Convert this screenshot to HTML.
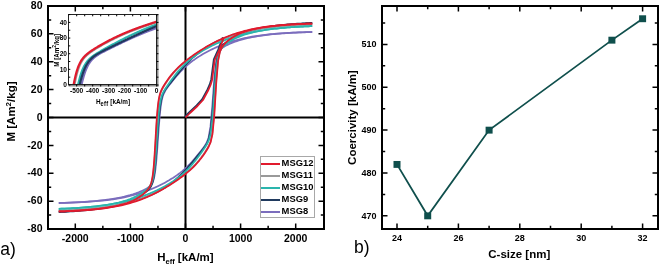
<!DOCTYPE html>
<html><head><meta charset="utf-8"><style>
html,body{margin:0;padding:0;background:#fff;}
body{width:660px;height:267px;overflow:hidden;font-family:"Liberation Sans",sans-serif;}
svg{display:block;will-change:transform;}
</style></head><body>
<svg width="660" height="267" viewBox="0 0 660 267">
<g stroke="#000" stroke-width="2" fill="none">
<line x1="48" y1="117.5" x2="324" y2="117.5"/>
<line x1="185.5" y1="6" x2="185.5" y2="229"/>
</g>
<defs><clipPath id="cl"><rect x="48" y="6" width="276" height="223"/></clipPath></defs>
<g clip-path="url(#cl)" fill="none" stroke-width="1.75" stroke-linejoin="round" stroke-linecap="butt">
<path d="M58.77,202.96 L61.62,202.88 L64.47,202.79 L67.32,202.70 L70.17,202.59 L73.02,202.48 L75.87,202.35 L78.72,202.21 L81.57,202.05 L84.42,201.88 L87.27,201.69 L90.12,201.48 L92.97,201.25 L95.82,201.00 L98.67,200.72 L101.52,200.41 L104.37,200.08 L107.22,199.71 L110.07,199.31 L112.92,198.87 L115.77,198.38 L118.62,197.85 L121.47,197.27 L124.32,196.63 L127.17,195.92 L130.02,195.15 L132.87,194.29 L135.72,193.35 L138.57,192.29 L141.42,191.11 L141.56,191.05 L141.70,190.99 L141.84,190.93 L141.97,190.87 L142.11,190.81 L142.25,190.74 L142.39,190.68 L142.53,190.62 L142.67,190.55 L142.81,190.49 L142.94,190.42 L143.08,190.36 L143.22,190.29 L143.36,190.23 L143.50,190.16 L143.64,190.09 L143.78,190.02 L143.92,189.96 L144.05,189.89 L144.19,189.82 L144.33,189.75 L144.47,189.68 L144.61,189.61 L144.75,189.54 L144.89,189.47 L145.02,189.39 L145.16,189.32 L145.30,189.25 L145.44,189.17 L145.58,189.10 L145.72,189.02 L145.86,188.95 L145.99,188.87 L146.13,188.79 L146.27,188.72 L146.41,188.64 L146.55,188.56 L146.69,188.48 L146.83,188.40 L146.96,188.31 L147.10,188.23 L147.24,188.14 L147.38,188.06 L147.52,187.97 L147.66,187.88 L147.80,187.79 L147.93,187.70 L148.07,187.61 L148.21,187.52 L148.35,187.42 L148.49,187.32 L148.63,187.23 L148.77,187.12 L148.91,187.02 L149.04,186.91 L149.18,186.81 L149.32,186.70 L149.46,186.58 L149.60,186.46 L149.74,186.34 L149.88,186.22 L150.01,186.09 L150.15,185.96 L150.29,185.82 L150.43,185.68 L150.57,185.53 L150.71,185.38 L150.85,185.22 L150.98,185.05 L151.12,184.88 L151.26,184.69 L151.40,184.50 L151.54,184.30 L151.68,184.09 L151.82,183.87 L151.95,183.63 L152.09,183.39 L152.23,183.13 L152.37,182.85 L152.51,182.56 L152.65,182.25 L152.79,181.92 L152.93,181.56 L153.06,181.19 L153.20,180.79 L153.34,180.37 L153.48,179.92 L153.62,179.44 L153.76,178.92 L153.90,178.37 L154.03,177.79 L154.17,177.17 L154.31,176.50 L154.45,175.79 L154.59,175.03 L154.73,174.23 L154.87,173.37 L155.00,172.46 L155.14,171.49 L155.28,170.46 L155.42,169.38 L155.56,168.23 L155.70,167.01 L155.84,165.73 L155.97,164.39 L156.11,162.98 L156.25,161.51 L156.39,159.97 L156.53,158.37 L156.67,156.70 L156.81,154.98 L156.95,153.21 L157.08,151.39 L157.22,149.52 L157.36,147.62 L157.50,145.68 L157.64,143.72 L157.78,141.74 L157.92,139.75 L158.05,137.75 L158.19,135.76 L158.33,133.78 L158.47,131.82 L158.61,129.88 L158.75,127.98 L158.89,126.12 L159.02,124.30 L159.16,122.53 L159.30,120.81 L159.44,119.15 L159.58,117.55 L159.72,116.01 L159.86,114.53 L159.99,113.12 L160.13,111.77 L160.27,110.49 L160.41,109.27 L160.55,108.11 L160.69,107.01 L160.83,105.97 L160.96,104.99 L161.10,104.06 L161.24,103.18 L161.38,102.35 L161.52,101.57 L161.66,100.84 L161.80,100.14 L161.94,99.49 L162.07,98.87 L162.21,98.29 L162.35,97.74 L162.49,97.22 L162.63,96.73 L162.77,96.26 L162.91,95.82 L163.04,95.40 L163.18,95.00 L163.32,94.62 L163.46,94.26 L165.34,90.51 L167.23,87.78 L169.11,85.31 L170.99,82.91 L172.88,80.55 L174.76,78.23 L176.64,75.98 L178.53,73.82 L180.41,71.76 L182.29,69.81 L184.17,67.96 L186.06,66.22 L187.94,64.58 L189.82,63.03 L191.71,61.56 L193.59,60.17 L195.47,58.85 L197.36,57.58 L199.24,56.37 L201.12,55.21 L203.01,54.10 L204.89,53.03 L206.77,52.00 L208.66,51.01 L210.54,50.05 L212.42,49.13 L214.31,48.25 L216.19,47.39 L218.07,46.57 L219.95,45.79 L221.84,45.03 L223.72,44.31 L225.60,43.61 L227.49,42.95 L229.37,42.32 L231.25,41.71 L233.14,41.13 L235.02,40.58 L236.90,40.06 L238.79,39.56 L240.67,39.08 L242.55,38.63 L244.44,38.21 L246.32,37.80 L248.20,37.42 L250.09,37.05 L251.97,36.71 L253.85,36.39 L255.74,36.08 L257.62,35.79 L259.50,35.52 L261.38,35.26 L263.27,35.02 L265.15,34.79 L267.03,34.57 L268.92,34.37 L270.80,34.18 L272.68,34.00 L274.57,33.83 L276.45,33.67 L278.33,33.52 L280.22,33.38 L282.10,33.25 L283.98,33.13 L285.87,33.01 L287.75,32.90 L289.63,32.80 L291.52,32.71 L293.40,32.62 L295.28,32.53 L297.16,32.45 L299.05,32.38 L300.93,32.31 L302.81,32.25 L304.70,32.18 L306.58,32.13 L308.46,32.07 L310.35,32.02 L312.23,31.98" stroke="#7b6dbd"/>
<path d="M58.77,203.02 L61.62,202.95 L64.47,202.87 L67.32,202.78 L70.17,202.69 L73.02,202.58 L75.87,202.46 L78.72,202.33 L81.57,202.19 L84.42,202.03 L87.27,201.86 L90.12,201.66 L92.97,201.45 L95.82,201.22 L98.67,200.97 L101.52,200.69 L104.37,200.38 L107.22,200.05 L110.07,199.68 L112.92,199.28 L115.77,198.84 L118.62,198.36 L121.47,197.84 L124.32,197.27 L127.17,196.66 L130.02,195.99 L132.87,195.27 L135.72,194.49 L138.57,193.65 L141.42,192.75 L141.56,192.71 L141.70,192.66 L141.84,192.61 L141.97,192.57 L142.11,192.52 L142.25,192.48 L142.39,192.43 L142.53,192.38 L142.67,192.34 L142.81,192.29 L142.94,192.24 L143.08,192.20 L143.22,192.15 L143.36,192.10 L143.50,192.05 L143.64,192.01 L143.78,191.96 L143.92,191.91 L144.05,191.86 L144.19,191.81 L144.33,191.76 L144.47,191.72 L144.61,191.67 L144.75,191.62 L144.89,191.57 L145.02,191.52 L145.16,191.47 L145.30,191.42 L145.44,191.37 L145.58,191.32 L145.72,191.27 L145.86,191.22 L145.99,191.17 L146.13,191.12 L146.27,191.07 L146.41,191.02 L146.55,190.96 L146.69,190.91 L146.83,190.86 L146.96,190.81 L147.10,190.76 L147.24,190.71 L147.38,190.65 L147.52,190.60 L147.66,190.55 L147.80,190.50 L147.93,190.44 L148.07,190.39 L148.21,190.34 L148.35,190.28 L148.49,190.23 L148.63,190.18 L148.77,190.12 L148.91,190.07 L149.04,190.01 L149.18,189.96 L149.32,189.90 L149.46,189.85 L149.60,189.80 L149.74,189.74 L149.88,189.68 L150.01,189.63 L150.15,189.57 L150.29,189.52 L150.43,189.46 L150.57,189.41 L150.71,189.35 L150.85,189.29 L150.98,189.24 L151.12,189.18 L151.26,189.12 L151.40,189.07 L151.54,189.01 L151.68,188.95 L151.82,188.89 L151.95,188.84 L152.09,188.78 L152.23,188.72 L152.37,188.66 L152.51,188.60 L152.65,188.54 L152.79,188.49 L152.93,188.43 L153.06,188.37 L153.20,188.31 L153.34,188.25 L153.48,188.19 L153.62,188.13 L153.76,188.07 L153.90,188.01 L154.03,187.95 L154.17,187.89 L154.31,187.83 L154.45,187.77 L154.59,187.71 L154.73,187.64 L154.87,187.58 L155.00,187.52 L155.14,187.46 L155.28,187.40 L155.42,187.33 L155.56,187.27 L155.70,187.21 L155.84,187.15 L155.97,187.08 L156.11,187.02 L156.25,186.96 L156.39,186.89 L156.53,186.83 L156.67,186.77 L156.81,186.70 L156.95,186.64 L157.08,186.57 L157.22,186.51 L157.36,186.45 L157.50,186.38 L157.64,186.32 L157.78,186.25 L157.92,186.18 L158.05,186.12 L158.19,186.05 L158.33,185.99 L158.47,185.92 L158.61,185.85 L158.75,185.79 L158.89,185.72 L159.02,185.65 L159.16,185.59 L159.30,185.52 L159.44,185.45 L159.58,185.38 L159.72,185.32 L159.86,185.25 L159.99,185.18 L160.13,185.11 L160.27,185.04 L160.41,184.97 L160.55,184.90 L160.69,184.84 L160.83,184.77 L160.96,184.70 L161.10,184.63 L161.24,184.56 L161.38,184.49 L161.52,184.42 L161.66,184.35 L161.80,184.27 L161.94,184.20 L162.07,184.13 L162.21,184.06 L162.35,183.99 L162.49,183.92 L162.63,183.85 L162.77,183.77 L162.91,183.70 L163.04,183.63 L163.18,183.56 L163.32,183.48 L163.46,183.41 L165.34,182.40 L167.23,181.34 L169.11,180.25 L170.99,179.10 L172.88,177.92 L174.76,176.68 L176.64,175.38 L178.53,174.01 L180.41,172.58 L182.29,171.06 L184.17,169.46 L186.06,167.76 L187.94,165.96 L189.82,164.05 L191.71,162.03 L193.59,159.91 L195.47,157.70 L197.36,155.40 L199.24,153.06 L201.12,150.67 L203.01,148.25 L204.89,145.66 L206.77,142.48 L208.66,137.23 L210.54,126.16 L212.42,104.69 L214.31,78.62 L216.19,61.29 L218.07,53.44 L219.95,50.03 L221.84,48.18 L223.72,46.88 L225.60,45.80 L227.49,44.85 L229.37,43.98 L231.25,43.18 L233.14,42.43 L235.02,41.74 L236.90,41.10 L238.79,40.50 L240.67,39.94 L242.55,39.42 L244.44,38.92 L246.32,38.46 L248.20,38.02 L250.09,37.62 L251.97,37.23 L253.85,36.87 L255.74,36.53 L257.62,36.21 L259.50,35.91 L261.38,35.63 L263.27,35.36 L265.15,35.11 L267.03,34.87 L268.92,34.65 L270.80,34.44 L272.68,34.25 L274.57,34.06 L276.45,33.89 L278.33,33.73 L280.22,33.57 L282.10,33.43 L283.98,33.30 L285.87,33.17 L287.75,33.05 L289.63,32.94 L291.52,32.84 L293.40,32.74 L295.28,32.65 L297.16,32.56 L299.05,32.48 L300.93,32.40 L302.81,32.33 L304.70,32.27 L306.58,32.20 L308.46,32.15 L310.35,32.09 L312.23,32.04" stroke="#7b6dbd"/>
<path d="M58.77,212.11 L61.62,211.98 L64.47,211.83 L67.32,211.67 L70.17,211.50 L73.02,211.31 L75.87,211.11 L78.72,210.89 L81.57,210.66 L84.42,210.40 L87.27,210.12 L90.12,209.82 L92.97,209.50 L95.82,209.14 L98.67,208.75 L101.52,208.33 L104.37,207.87 L107.22,207.36 L110.07,206.81 L112.92,206.20 L115.77,205.53 L118.62,204.79 L121.47,203.97 L124.32,203.06 L127.17,202.05 L130.02,200.93 L132.87,199.68 L135.72,198.30 L138.57,196.76 L141.42,195.04 L141.56,194.95 L141.70,194.86 L141.84,194.77 L141.97,194.68 L142.11,194.59 L142.25,194.50 L142.39,194.41 L142.53,194.32 L142.67,194.23 L142.81,194.14 L142.94,194.04 L143.08,193.95 L143.22,193.86 L143.36,193.76 L143.50,193.67 L143.64,193.57 L143.78,193.47 L143.92,193.38 L144.05,193.28 L144.19,193.18 L144.33,193.08 L144.47,192.98 L144.61,192.88 L144.75,192.78 L144.89,192.68 L145.02,192.58 L145.16,192.47 L145.30,192.37 L145.44,192.26 L145.58,192.16 L145.72,192.05 L145.86,191.94 L145.99,191.84 L146.13,191.73 L146.27,191.62 L146.41,191.50 L146.55,191.39 L146.69,191.28 L146.83,191.16 L146.96,191.05 L147.10,190.93 L147.24,190.81 L147.38,190.69 L147.52,190.56 L147.66,190.44 L147.80,190.31 L147.93,190.18 L148.07,190.05 L148.21,189.92 L148.35,189.78 L148.49,189.64 L148.63,189.50 L148.77,189.35 L148.91,189.20 L149.04,189.05 L149.18,188.89 L149.32,188.73 L149.46,188.56 L149.60,188.39 L149.74,188.21 L149.88,188.03 L150.01,187.84 L150.15,187.65 L150.29,187.44 L150.43,187.23 L150.57,187.01 L150.71,186.78 L150.85,186.54 L150.98,186.29 L151.12,186.02 L151.26,185.75 L151.40,185.46 L151.54,185.15 L151.68,184.83 L151.82,184.49 L151.95,184.13 L152.09,183.75 L152.23,183.35 L152.37,182.93 L152.51,182.48 L152.65,182.00 L152.79,181.49 L152.93,180.96 L153.06,180.39 L153.20,179.78 L153.34,179.14 L153.48,178.46 L153.62,177.74 L153.76,176.97 L153.90,176.15 L154.03,175.29 L154.17,174.37 L154.31,173.41 L154.45,172.38 L154.59,171.30 L154.73,170.16 L154.87,168.97 L155.00,167.71 L155.14,166.38 L155.28,165.00 L155.42,163.55 L155.56,162.05 L155.70,160.48 L155.84,158.86 L155.97,157.18 L156.11,155.45 L156.25,153.66 L156.39,151.84 L156.53,149.98 L156.67,148.08 L156.81,146.15 L156.95,144.20 L157.08,142.24 L157.22,140.27 L157.36,138.29 L157.50,136.33 L157.64,134.37 L157.78,132.44 L157.92,130.53 L158.05,128.65 L158.19,126.80 L158.33,125.00 L158.47,123.25 L158.61,121.55 L158.75,119.90 L158.89,118.31 L159.02,116.77 L159.16,115.30 L159.30,113.88 L159.44,112.53 L159.58,111.24 L159.72,110.01 L159.86,108.84 L159.99,107.72 L160.13,106.67 L160.27,105.66 L160.41,104.71 L160.55,103.82 L160.69,102.97 L160.83,102.16 L160.96,101.40 L161.10,100.68 L161.24,100.01 L161.38,99.36 L161.52,98.76 L161.66,98.18 L161.80,97.64 L161.94,97.13 L162.07,96.64 L162.21,96.18 L162.35,95.74 L162.49,95.32 L162.63,94.92 L162.77,94.54 L162.91,94.18 L163.04,93.83 L163.18,93.50 L163.32,93.18 L163.46,92.87 L165.34,89.53 L167.23,86.92 L169.11,84.52 L170.99,82.17 L172.88,79.84 L174.76,77.52 L176.64,75.21 L178.53,72.94 L180.41,70.72 L182.29,68.54 L184.17,66.43 L186.06,64.38 L187.94,62.42 L189.82,60.52 L191.71,58.71 L193.59,56.98 L195.47,55.33 L197.36,53.76 L199.24,52.27 L201.12,50.86 L203.01,49.51 L204.89,48.24 L206.77,47.03 L208.66,45.88 L210.54,44.79 L212.42,43.76 L214.31,42.77 L216.19,41.84 L218.07,40.95 L219.95,40.10 L221.84,39.28 L223.72,38.51 L225.60,37.77 L227.49,37.07 L229.37,36.39 L231.25,35.74 L233.14,35.12 L235.02,34.53 L236.90,33.96 L238.79,33.41 L240.67,32.89 L242.55,32.39 L244.44,31.91 L246.32,31.44 L248.20,31.00 L250.09,30.57 L251.97,30.16 L253.85,29.77 L255.74,29.39 L257.62,29.03 L259.50,28.69 L261.38,28.35 L263.27,28.03 L265.15,27.73 L267.03,27.43 L268.92,27.15 L270.80,26.88 L272.68,26.62 L274.57,26.38 L276.45,26.14 L278.33,25.91 L280.22,25.70 L282.10,25.49 L283.98,25.29 L285.87,25.10 L287.75,24.92 L289.63,24.74 L291.52,24.58 L293.40,24.42 L295.28,24.26 L297.16,24.12 L299.05,23.98 L300.93,23.85 L302.81,23.72 L304.70,23.60 L306.58,23.48 L308.46,23.37 L310.35,23.27 L312.23,23.17" stroke="#203a5e"/>
<path d="M58.77,211.83 L61.62,211.68 L64.47,211.51 L67.32,211.34 L70.17,211.15 L73.02,210.94 L75.87,210.72 L78.72,210.49 L81.57,210.24 L84.42,209.97 L87.27,209.69 L90.12,209.38 L92.97,209.05 L95.82,208.70 L98.67,208.33 L101.52,207.93 L104.37,207.50 L107.22,207.05 L110.07,206.57 L112.92,206.05 L115.77,205.51 L118.62,204.92 L121.47,204.30 L124.32,203.64 L127.17,202.94 L130.02,202.19 L132.87,201.40 L135.72,200.55 L138.57,199.65 L141.42,198.68 L141.56,198.64 L141.70,198.59 L141.84,198.54 L141.97,198.49 L142.11,198.44 L142.25,198.39 L142.39,198.34 L142.53,198.29 L142.67,198.24 L142.81,198.19 L142.94,198.14 L143.08,198.09 L143.22,198.04 L143.36,197.99 L143.50,197.94 L143.64,197.89 L143.78,197.84 L143.92,197.79 L144.05,197.73 L144.19,197.68 L144.33,197.63 L144.47,197.58 L144.61,197.53 L144.75,197.48 L144.89,197.42 L145.02,197.37 L145.16,197.32 L145.30,197.26 L145.44,197.21 L145.58,197.16 L145.72,197.10 L145.86,197.05 L145.99,197.00 L146.13,196.94 L146.27,196.89 L146.41,196.83 L146.55,196.78 L146.69,196.72 L146.83,196.67 L146.96,196.61 L147.10,196.56 L147.24,196.50 L147.38,196.45 L147.52,196.39 L147.66,196.34 L147.80,196.28 L147.93,196.22 L148.07,196.17 L148.21,196.11 L148.35,196.05 L148.49,196.00 L148.63,195.94 L148.77,195.88 L148.91,195.82 L149.04,195.76 L149.18,195.71 L149.32,195.65 L149.46,195.59 L149.60,195.53 L149.74,195.47 L149.88,195.41 L150.01,195.35 L150.15,195.29 L150.29,195.23 L150.43,195.17 L150.57,195.11 L150.71,195.05 L150.85,194.99 L150.98,194.93 L151.12,194.87 L151.26,194.81 L151.40,194.75 L151.54,194.69 L151.68,194.62 L151.82,194.56 L151.95,194.50 L152.09,194.44 L152.23,194.37 L152.37,194.31 L152.51,194.25 L152.65,194.18 L152.79,194.12 L152.93,194.06 L153.06,193.99 L153.20,193.93 L153.34,193.86 L153.48,193.80 L153.62,193.73 L153.76,193.67 L153.90,193.60 L154.03,193.54 L154.17,193.47 L154.31,193.40 L154.45,193.34 L154.59,193.27 L154.73,193.20 L154.87,193.14 L155.00,193.07 L155.14,193.00 L155.28,192.93 L155.42,192.87 L155.56,192.80 L155.70,192.73 L155.84,192.66 L155.97,192.59 L156.11,192.52 L156.25,192.45 L156.39,192.38 L156.53,192.31 L156.67,192.24 L156.81,192.17 L156.95,192.10 L157.08,192.03 L157.22,191.96 L157.36,191.88 L157.50,191.81 L157.64,191.74 L157.78,191.67 L157.92,191.59 L158.05,191.52 L158.19,191.45 L158.33,191.37 L158.47,191.30 L158.61,191.23 L158.75,191.15 L158.89,191.08 L159.02,191.00 L159.16,190.93 L159.30,190.85 L159.44,190.77 L159.58,190.70 L159.72,190.62 L159.86,190.55 L159.99,190.47 L160.13,190.39 L160.27,190.31 L160.41,190.24 L160.55,190.16 L160.69,190.08 L160.83,190.00 L160.96,189.92 L161.10,189.84 L161.24,189.76 L161.38,189.68 L161.52,189.60 L161.66,189.52 L161.80,189.44 L161.94,189.36 L162.07,189.28 L162.21,189.20 L162.35,189.11 L162.49,189.03 L162.63,188.95 L162.77,188.86 L162.91,188.78 L163.04,188.70 L163.18,188.61 L163.32,188.53 L163.46,188.44 L165.34,187.26 L167.23,186.01 L169.11,184.70 L170.99,183.31 L172.88,181.85 L174.76,180.32 L176.64,178.70 L178.53,177.00 L180.41,175.22 L182.29,173.37 L184.17,171.43 L186.06,169.41 L187.94,167.33 L189.82,165.18 L191.71,162.97 L193.59,160.72 L195.47,158.43 L197.36,156.11 L199.24,153.78 L201.12,151.44 L203.01,149.07 L204.89,146.58 L206.77,143.64 L208.66,139.24 L210.54,130.62 L212.42,113.08 L214.31,87.29 L216.19,65.56 L218.07,54.05 L219.95,48.83 L221.84,46.09 L223.72,44.23 L225.60,42.70 L227.49,41.34 L229.37,40.09 L231.25,38.93 L233.14,37.85 L235.02,36.84 L236.90,35.90 L238.79,35.02 L240.67,34.20 L242.55,33.44 L244.44,32.73 L246.32,32.06 L248.20,31.45 L250.09,30.87 L251.97,30.33 L253.85,29.82 L255.74,29.35 L257.62,28.91 L259.50,28.49 L261.38,28.10 L263.27,27.73 L265.15,27.39 L267.03,27.06 L268.92,26.76 L270.80,26.47 L272.68,26.20 L274.57,25.94 L276.45,25.70 L278.33,25.47 L280.22,25.25 L282.10,25.05 L283.98,24.85 L285.87,24.67 L287.75,24.49 L289.63,24.33 L291.52,24.17 L293.40,24.02 L295.28,23.88 L297.16,23.74 L299.05,23.62 L300.93,23.50 L302.81,23.38 L304.70,23.27 L306.58,23.17 L308.46,23.07 L310.35,22.98 L312.23,22.89" stroke="#203a5e"/>
<path d="M184.60,116.90 L189.10,112.40 L196.60,105.40 L202.10,99.40 L207.50,89.40 L209.70,84.40 L211.20,79.40 L213.80,59.40 L218.30,49.40 L222.80,37.30" stroke="#203a5e"/>
<path d="M58.77,210.55 L61.62,210.46 L64.47,210.36 L67.32,210.25 L70.17,210.13 L73.02,210.00 L75.87,209.86 L78.72,209.70 L81.57,209.52 L84.42,209.33 L87.27,209.11 L90.12,208.88 L92.97,208.62 L95.82,208.33 L98.67,208.02 L101.52,207.67 L104.37,207.29 L107.22,206.87 L110.07,206.41 L112.92,205.90 L115.77,205.33 L118.62,204.70 L121.47,203.99 L124.32,203.20 L127.17,202.30 L130.02,201.27 L132.87,200.08 L135.72,198.69 L138.57,197.06 L141.42,195.11 L141.56,195.01 L141.70,194.90 L141.84,194.80 L141.97,194.69 L142.11,194.58 L142.25,194.47 L142.39,194.36 L142.53,194.25 L142.67,194.14 L142.81,194.03 L142.94,193.92 L143.08,193.80 L143.22,193.69 L143.36,193.57 L143.50,193.45 L143.64,193.33 L143.78,193.21 L143.92,193.09 L144.05,192.97 L144.19,192.85 L144.33,192.72 L144.47,192.60 L144.61,192.47 L144.75,192.34 L144.89,192.22 L145.02,192.09 L145.16,191.95 L145.30,191.82 L145.44,191.69 L145.58,191.55 L145.72,191.41 L145.86,191.28 L145.99,191.14 L146.13,191.00 L146.27,190.85 L146.41,190.71 L146.55,190.56 L146.69,190.41 L146.83,190.26 L146.96,190.11 L147.10,189.96 L147.24,189.80 L147.38,189.65 L147.52,189.49 L147.66,189.32 L147.80,189.16 L147.93,188.99 L148.07,188.82 L148.21,188.64 L148.35,188.47 L148.49,188.29 L148.63,188.10 L148.77,187.91 L148.91,187.72 L149.04,187.52 L149.18,187.31 L149.32,187.10 L149.46,186.88 L149.60,186.66 L149.74,186.43 L149.88,186.19 L150.01,185.94 L150.15,185.68 L150.29,185.40 L150.43,185.12 L150.57,184.82 L150.71,184.51 L150.85,184.18 L150.98,183.83 L151.12,183.46 L151.26,183.07 L151.40,182.66 L151.54,182.22 L151.68,181.75 L151.82,181.25 L151.95,180.71 L152.09,180.14 L152.23,179.52 L152.37,178.86 L152.51,178.15 L152.65,177.39 L152.79,176.57 L152.93,175.69 L153.06,174.74 L153.20,173.72 L153.34,172.62 L153.48,171.45 L153.62,170.19 L153.76,168.85 L153.90,167.42 L154.03,165.89 L154.17,164.28 L154.31,162.56 L154.45,160.76 L154.59,158.86 L154.73,156.88 L154.87,154.81 L155.00,152.66 L155.14,150.45 L155.28,148.17 L155.42,145.84 L155.56,143.47 L155.70,141.08 L155.84,138.68 L155.97,136.27 L156.11,133.88 L156.25,131.51 L156.39,129.18 L156.53,126.90 L156.67,124.68 L156.81,122.53 L156.95,120.46 L157.08,118.47 L157.22,116.56 L157.36,114.75 L157.50,113.03 L157.64,111.40 L157.78,109.86 L157.92,108.42 L158.05,107.06 L158.19,105.78 L158.33,104.59 L158.47,103.48 L158.61,102.44 L158.75,101.47 L158.89,100.56 L159.02,99.71 L159.16,98.92 L159.30,98.18 L159.44,97.49 L159.58,96.84 L159.72,96.23 L159.86,95.66 L159.99,95.12 L160.13,94.61 L160.27,94.14 L160.41,93.68 L160.55,93.25 L160.69,92.84 L160.83,92.45 L160.96,92.07 L161.10,91.71 L161.24,91.37 L161.38,91.03 L161.52,90.71 L161.66,90.40 L161.80,90.10 L161.94,89.80 L162.07,89.52 L162.21,89.24 L162.35,88.96 L162.49,88.70 L162.63,88.43 L162.77,88.18 L162.91,87.92 L163.04,87.67 L163.18,87.43 L163.32,87.19 L163.46,86.95 L165.34,83.89 L167.23,81.08 L169.11,78.45 L170.99,75.99 L172.88,73.70 L174.76,71.56 L176.64,69.57 L178.53,67.70 L180.41,65.95 L182.29,64.28 L184.17,62.70 L186.06,61.18 L187.94,59.72 L189.82,58.31 L191.71,56.94 L193.59,55.61 L195.47,54.31 L197.36,53.05 L199.24,51.82 L201.12,50.62 L203.01,49.46 L204.89,48.32 L206.77,47.21 L208.66,46.13 L210.54,45.09 L212.42,44.07 L214.31,43.09 L216.19,42.14 L218.07,41.22 L219.95,40.34 L221.84,39.49 L223.72,38.67 L225.60,37.88 L227.49,37.12 L229.37,36.40 L231.25,35.71 L233.14,35.05 L235.02,34.41 L236.90,33.81 L238.79,33.24 L240.67,32.69 L242.55,32.17 L244.44,31.68 L246.32,31.21 L248.20,30.77 L250.09,30.35 L251.97,29.95 L253.85,29.57 L255.74,29.22 L257.62,28.88 L259.50,28.56 L261.38,28.26 L263.27,27.98 L265.15,27.71 L267.03,27.46 L268.92,27.22 L270.80,27.00 L272.68,26.79 L274.57,26.59 L276.45,26.41 L278.33,26.23 L280.22,26.07 L282.10,25.91 L283.98,25.77 L285.87,25.63 L287.75,25.51 L289.63,25.39 L291.52,25.27 L293.40,25.17 L295.28,25.07 L297.16,24.98 L299.05,24.89 L300.93,24.81 L302.81,24.73 L304.70,24.66 L306.58,24.59 L308.46,24.53 L310.35,24.47 L312.23,24.41" stroke="#999999"/>
<path d="M58.77,210.59 L61.62,210.50 L64.47,210.41 L67.32,210.30 L70.17,210.19 L73.02,210.06 L75.87,209.92 L78.72,209.77 L81.57,209.60 L84.42,209.42 L87.27,209.21 L90.12,208.99 L92.97,208.74 L95.82,208.47 L98.67,208.17 L101.52,207.84 L104.37,207.49 L107.22,207.10 L110.07,206.67 L112.92,206.20 L115.77,205.69 L118.62,205.14 L121.47,204.53 L124.32,203.88 L127.17,203.16 L130.02,202.40 L132.87,201.57 L135.72,200.67 L138.57,199.71 L141.42,198.68 L141.56,198.63 L141.70,198.57 L141.84,198.52 L141.97,198.47 L142.11,198.42 L142.25,198.36 L142.39,198.31 L142.53,198.26 L142.67,198.21 L142.81,198.15 L142.94,198.10 L143.08,198.04 L143.22,197.99 L143.36,197.94 L143.50,197.88 L143.64,197.83 L143.78,197.77 L143.92,197.72 L144.05,197.66 L144.19,197.61 L144.33,197.55 L144.47,197.50 L144.61,197.44 L144.75,197.39 L144.89,197.33 L145.02,197.27 L145.16,197.22 L145.30,197.16 L145.44,197.10 L145.58,197.05 L145.72,196.99 L145.86,196.93 L145.99,196.87 L146.13,196.82 L146.27,196.76 L146.41,196.70 L146.55,196.64 L146.69,196.59 L146.83,196.53 L146.96,196.47 L147.10,196.41 L147.24,196.35 L147.38,196.29 L147.52,196.23 L147.66,196.17 L147.80,196.11 L147.93,196.05 L148.07,195.99 L148.21,195.93 L148.35,195.87 L148.49,195.81 L148.63,195.75 L148.77,195.69 L148.91,195.63 L149.04,195.57 L149.18,195.51 L149.32,195.44 L149.46,195.38 L149.60,195.32 L149.74,195.26 L149.88,195.20 L150.01,195.13 L150.15,195.07 L150.29,195.01 L150.43,194.94 L150.57,194.88 L150.71,194.82 L150.85,194.75 L150.98,194.69 L151.12,194.63 L151.26,194.56 L151.40,194.50 L151.54,194.43 L151.68,194.37 L151.82,194.30 L151.95,194.24 L152.09,194.17 L152.23,194.11 L152.37,194.04 L152.51,193.98 L152.65,193.91 L152.79,193.85 L152.93,193.78 L153.06,193.71 L153.20,193.65 L153.34,193.58 L153.48,193.51 L153.62,193.45 L153.76,193.38 L153.90,193.31 L154.03,193.24 L154.17,193.17 L154.31,193.11 L154.45,193.04 L154.59,192.97 L154.73,192.90 L154.87,192.83 L155.00,192.76 L155.14,192.70 L155.28,192.63 L155.42,192.56 L155.56,192.49 L155.70,192.42 L155.84,192.35 L155.97,192.28 L156.11,192.21 L156.25,192.14 L156.39,192.07 L156.53,191.99 L156.67,191.92 L156.81,191.85 L156.95,191.78 L157.08,191.71 L157.22,191.64 L157.36,191.57 L157.50,191.49 L157.64,191.42 L157.78,191.35 L157.92,191.28 L158.05,191.20 L158.19,191.13 L158.33,191.06 L158.47,190.98 L158.61,190.91 L158.75,190.84 L158.89,190.76 L159.02,190.69 L159.16,190.62 L159.30,190.54 L159.44,190.47 L159.58,190.39 L159.72,190.32 L159.86,190.24 L159.99,190.17 L160.13,190.09 L160.27,190.02 L160.41,189.94 L160.55,189.87 L160.69,189.79 L160.83,189.71 L160.96,189.64 L161.10,189.56 L161.24,189.48 L161.38,189.41 L161.52,189.33 L161.66,189.25 L161.80,189.17 L161.94,189.10 L162.07,189.02 L162.21,188.94 L162.35,188.86 L162.49,188.79 L162.63,188.71 L162.77,188.63 L162.91,188.55 L163.04,188.47 L163.18,188.39 L163.32,188.31 L163.46,188.23 L165.34,187.14 L167.23,186.01 L169.11,184.86 L170.99,183.67 L172.88,182.45 L174.76,181.20 L176.64,179.92 L178.53,178.61 L180.41,177.26 L182.29,175.86 L184.17,174.42 L186.06,172.93 L187.94,171.37 L189.82,169.74 L191.71,168.03 L193.59,166.20 L195.47,164.27 L197.36,162.19 L199.24,159.96 L201.12,157.57 L203.01,155.01 L204.89,152.28 L206.77,149.34 L208.66,146.02 L210.54,141.48 L212.42,132.34 L214.31,110.74 L216.19,79.37 L218.07,59.33 L219.95,51.33 L221.84,47.66 L223.72,45.24 L225.60,43.27 L227.49,41.56 L229.37,40.05 L231.25,38.70 L233.14,37.51 L235.02,36.44 L236.90,35.49 L238.79,34.63 L240.67,33.85 L242.55,33.15 L244.44,32.50 L246.32,31.91 L248.20,31.37 L250.09,30.86 L251.97,30.40 L253.85,29.97 L255.74,29.57 L257.62,29.19 L259.50,28.84 L261.38,28.51 L263.27,28.21 L265.15,27.92 L267.03,27.65 L268.92,27.40 L270.80,27.16 L272.68,26.94 L274.57,26.73 L276.45,26.54 L278.33,26.35 L280.22,26.18 L282.10,26.02 L283.98,25.87 L285.87,25.72 L287.75,25.59 L289.63,25.47 L291.52,25.35 L293.40,25.24 L295.28,25.13 L297.16,25.04 L299.05,24.95 L300.93,24.86 L302.81,24.78 L304.70,24.71 L306.58,24.64 L308.46,24.57 L310.35,24.51 L312.23,24.45" stroke="#999999"/>
<path d="M58.77,208.85 L61.62,208.74 L64.47,208.63 L67.32,208.50 L70.17,208.36 L73.02,208.20 L75.87,208.03 L78.72,207.85 L81.57,207.65 L84.42,207.43 L87.27,207.19 L90.12,206.93 L92.97,206.65 L95.82,206.34 L98.67,206.00 L101.52,205.63 L104.37,205.22 L107.22,204.77 L110.07,204.29 L112.92,203.75 L115.77,203.16 L118.62,202.50 L121.47,201.77 L124.32,200.96 L127.17,200.05 L130.02,199.03 L132.87,197.87 L135.72,196.56 L138.57,195.05 L141.42,193.33 L141.56,193.24 L141.70,193.15 L141.84,193.06 L141.97,192.97 L142.11,192.88 L142.25,192.79 L142.39,192.69 L142.53,192.60 L142.67,192.50 L142.81,192.41 L142.94,192.31 L143.08,192.21 L143.22,192.12 L143.36,192.02 L143.50,191.92 L143.64,191.82 L143.78,191.72 L143.92,191.62 L144.05,191.51 L144.19,191.41 L144.33,191.31 L144.47,191.20 L144.61,191.10 L144.75,190.99 L144.89,190.89 L145.02,190.78 L145.16,190.67 L145.30,190.56 L145.44,190.45 L145.58,190.34 L145.72,190.23 L145.86,190.11 L145.99,190.00 L146.13,189.88 L146.27,189.77 L146.41,189.65 L146.55,189.53 L146.69,189.41 L146.83,189.29 L146.96,189.16 L147.10,189.04 L147.24,188.91 L147.38,188.78 L147.52,188.66 L147.66,188.52 L147.80,188.39 L147.93,188.26 L148.07,188.12 L148.21,187.98 L148.35,187.83 L148.49,187.69 L148.63,187.54 L148.77,187.39 L148.91,187.24 L149.04,187.08 L149.18,186.91 L149.32,186.75 L149.46,186.58 L149.60,186.40 L149.74,186.22 L149.88,186.03 L150.01,185.84 L150.15,185.64 L150.29,185.43 L150.43,185.21 L150.57,184.99 L150.71,184.75 L150.85,184.51 L150.98,184.25 L151.12,183.98 L151.26,183.70 L151.40,183.40 L151.54,183.09 L151.68,182.76 L151.82,182.41 L151.95,182.04 L152.09,181.64 L152.23,181.23 L152.37,180.78 L152.51,180.31 L152.65,179.81 L152.79,179.27 L152.93,178.70 L153.06,178.09 L153.20,177.44 L153.34,176.74 L153.48,176.00 L153.62,175.21 L153.76,174.36 L153.90,173.46 L154.03,172.50 L154.17,171.48 L154.31,170.39 L154.45,169.24 L154.59,168.02 L154.73,166.72 L154.87,165.36 L155.00,163.92 L155.14,162.41 L155.28,160.83 L155.42,159.18 L155.56,157.46 L155.70,155.67 L155.84,153.83 L155.97,151.93 L156.11,149.98 L156.25,147.98 L156.39,145.95 L156.53,143.89 L156.67,141.81 L156.81,139.73 L156.95,137.64 L157.08,135.55 L157.22,133.49 L157.36,131.44 L157.50,129.44 L157.64,127.47 L157.78,125.55 L157.92,123.68 L158.05,121.87 L158.19,120.12 L158.33,118.44 L158.47,116.83 L158.61,115.29 L158.75,113.82 L158.89,112.42 L159.02,111.09 L159.16,109.83 L159.30,108.64 L159.44,107.51 L159.58,106.45 L159.72,105.45 L159.86,104.50 L159.99,103.62 L160.13,102.78 L160.27,102.00 L160.41,101.26 L160.55,100.56 L160.69,99.91 L160.83,99.29 L160.96,98.71 L161.10,98.16 L161.24,97.63 L161.38,97.14 L161.52,96.68 L161.66,96.23 L161.80,95.81 L161.94,95.41 L162.07,95.02 L162.21,94.66 L162.35,94.31 L162.49,93.97 L162.63,93.64 L162.77,93.33 L162.91,93.03 L163.04,92.73 L163.18,92.45 L163.32,92.17 L163.46,91.90 L165.34,88.70 L167.23,85.87 L169.11,83.17 L170.99,80.54 L172.88,77.99 L174.76,75.52 L176.64,73.15 L178.53,70.90 L180.41,68.76 L182.29,66.74 L184.17,64.83 L186.06,63.03 L187.94,61.34 L189.82,59.74 L191.71,58.23 L193.59,56.79 L195.47,55.43 L197.36,54.14 L199.24,52.90 L201.12,51.72 L203.01,50.58 L204.89,49.50 L206.77,48.45 L208.66,47.44 L210.54,46.47 L212.42,45.54 L214.31,44.63 L216.19,43.76 L218.07,42.93 L219.95,42.12 L221.84,41.34 L223.72,40.58 L225.60,39.86 L227.49,39.16 L229.37,38.49 L231.25,37.84 L233.14,37.22 L235.02,36.63 L236.90,36.06 L238.79,35.51 L240.67,34.98 L242.55,34.48 L244.44,34.00 L246.32,33.54 L248.20,33.10 L250.09,32.68 L251.97,32.28 L253.85,31.90 L255.74,31.53 L257.62,31.19 L259.50,30.86 L261.38,30.54 L263.27,30.25 L265.15,29.96 L267.03,29.69 L268.92,29.44 L270.80,29.19 L272.68,28.96 L274.57,28.74 L276.45,28.54 L278.33,28.34 L280.22,28.15 L282.10,27.98 L283.98,27.81 L285.87,27.65 L287.75,27.50 L289.63,27.36 L291.52,27.23 L293.40,27.10 L295.28,26.98 L297.16,26.87 L299.05,26.76 L300.93,26.66 L302.81,26.57 L304.70,26.48 L306.58,26.39 L308.46,26.31 L310.35,26.24 L312.23,26.17" stroke="#2ab5ad"/>
<path d="M58.77,208.83 L61.62,208.73 L64.47,208.61 L67.32,208.47 L70.17,208.33 L73.02,208.18 L75.87,208.01 L78.72,207.82 L81.57,207.62 L84.42,207.40 L87.27,207.17 L90.12,206.91 L92.97,206.63 L95.82,206.32 L98.67,205.99 L101.52,205.64 L104.37,205.25 L107.22,204.83 L110.07,204.38 L112.92,203.89 L115.77,203.37 L118.62,202.81 L121.47,202.20 L124.32,201.55 L127.17,200.85 L130.02,200.10 L132.87,199.30 L135.72,198.45 L138.57,197.55 L141.42,196.58 L141.56,196.54 L141.70,196.49 L141.84,196.44 L141.97,196.39 L142.11,196.34 L142.25,196.29 L142.39,196.24 L142.53,196.19 L142.67,196.14 L142.81,196.09 L142.94,196.04 L143.08,195.99 L143.22,195.94 L143.36,195.89 L143.50,195.84 L143.64,195.79 L143.78,195.74 L143.92,195.69 L144.05,195.64 L144.19,195.59 L144.33,195.54 L144.47,195.49 L144.61,195.44 L144.75,195.38 L144.89,195.33 L145.02,195.28 L145.16,195.23 L145.30,195.18 L145.44,195.12 L145.58,195.07 L145.72,195.02 L145.86,194.97 L145.99,194.91 L146.13,194.86 L146.27,194.81 L146.41,194.75 L146.55,194.70 L146.69,194.65 L146.83,194.59 L146.96,194.54 L147.10,194.49 L147.24,194.43 L147.38,194.38 L147.52,194.32 L147.66,194.27 L147.80,194.21 L147.93,194.16 L148.07,194.10 L148.21,194.05 L148.35,193.99 L148.49,193.94 L148.63,193.88 L148.77,193.82 L148.91,193.77 L149.04,193.71 L149.18,193.66 L149.32,193.60 L149.46,193.54 L149.60,193.49 L149.74,193.43 L149.88,193.37 L150.01,193.31 L150.15,193.26 L150.29,193.20 L150.43,193.14 L150.57,193.08 L150.71,193.03 L150.85,192.97 L150.98,192.91 L151.12,192.85 L151.26,192.79 L151.40,192.73 L151.54,192.67 L151.68,192.62 L151.82,192.56 L151.95,192.50 L152.09,192.44 L152.23,192.38 L152.37,192.32 L152.51,192.26 L152.65,192.20 L152.79,192.14 L152.93,192.08 L153.06,192.02 L153.20,191.95 L153.34,191.89 L153.48,191.83 L153.62,191.77 L153.76,191.71 L153.90,191.65 L154.03,191.59 L154.17,191.52 L154.31,191.46 L154.45,191.40 L154.59,191.34 L154.73,191.27 L154.87,191.21 L155.00,191.15 L155.14,191.08 L155.28,191.02 L155.42,190.96 L155.56,190.89 L155.70,190.83 L155.84,190.77 L155.97,190.70 L156.11,190.64 L156.25,190.57 L156.39,190.51 L156.53,190.44 L156.67,190.38 L156.81,190.31 L156.95,190.25 L157.08,190.18 L157.22,190.12 L157.36,190.05 L157.50,189.98 L157.64,189.92 L157.78,189.85 L157.92,189.78 L158.05,189.72 L158.19,189.65 L158.33,189.58 L158.47,189.52 L158.61,189.45 L158.75,189.38 L158.89,189.31 L159.02,189.24 L159.16,189.18 L159.30,189.11 L159.44,189.04 L159.58,188.97 L159.72,188.90 L159.86,188.83 L159.99,188.76 L160.13,188.69 L160.27,188.62 L160.41,188.55 L160.55,188.48 L160.69,188.41 L160.83,188.34 L160.96,188.27 L161.10,188.20 L161.24,188.13 L161.38,188.06 L161.52,187.99 L161.66,187.92 L161.80,187.84 L161.94,187.77 L162.07,187.70 L162.21,187.63 L162.35,187.55 L162.49,187.48 L162.63,187.41 L162.77,187.33 L162.91,187.26 L163.04,187.19 L163.18,187.11 L163.32,187.04 L163.46,186.97 L165.34,185.94 L167.23,184.86 L169.11,183.75 L170.99,182.59 L172.88,181.37 L174.76,180.10 L176.64,178.77 L178.53,177.37 L180.41,175.89 L182.29,174.32 L184.17,172.67 L186.06,170.91 L187.94,169.05 L189.82,167.08 L191.71,164.99 L193.59,162.78 L195.47,160.46 L197.36,158.03 L199.24,155.51 L201.12,152.91 L203.01,150.24 L204.89,147.48 L206.77,144.49 L208.66,140.68 L210.54,134.00 L212.42,119.38 L214.31,93.59 L216.19,69.10 L218.07,56.31 L219.95,50.86 L221.84,48.06 L223.72,46.12 L225.60,44.51 L227.49,43.09 L229.37,41.80 L231.25,40.63 L233.14,39.55 L235.02,38.57 L236.90,37.67 L238.79,36.85 L240.67,36.09 L242.55,35.39 L244.44,34.75 L246.32,34.15 L248.20,33.60 L250.09,33.08 L251.97,32.60 L253.85,32.15 L255.74,31.74 L257.62,31.34 L259.50,30.98 L261.38,30.63 L263.27,30.31 L265.15,30.01 L267.03,29.72 L268.92,29.45 L270.80,29.20 L272.68,28.96 L274.57,28.73 L276.45,28.52 L278.33,28.32 L280.22,28.13 L282.10,27.95 L283.98,27.79 L285.87,27.63 L287.75,27.48 L289.63,27.34 L291.52,27.20 L293.40,27.08 L295.28,26.96 L297.16,26.85 L299.05,26.74 L300.93,26.64 L302.81,26.55 L304.70,26.46 L306.58,26.37 L308.46,26.29 L310.35,26.22 L312.23,26.15" stroke="#2ab5ad"/>
<path d="M58.77,211.45 L61.62,211.36 L64.47,211.26 L67.32,211.14 L70.17,211.02 L73.02,210.88 L75.87,210.73 L78.72,210.57 L81.57,210.38 L84.42,210.18 L87.27,209.96 L90.12,209.72 L92.97,209.45 L95.82,209.15 L98.67,208.83 L101.52,208.48 L104.37,208.08 L107.22,207.65 L110.07,207.18 L112.92,206.65 L115.77,206.07 L118.62,205.42 L121.47,204.69 L124.32,203.88 L127.17,202.96 L130.02,201.90 L132.87,200.68 L135.72,199.25 L138.57,197.56 L141.42,195.56 L141.56,195.45 L141.70,195.35 L141.84,195.24 L141.97,195.13 L142.11,195.02 L142.25,194.91 L142.39,194.79 L142.53,194.68 L142.67,194.57 L142.81,194.45 L142.94,194.33 L143.08,194.22 L143.22,194.10 L143.36,193.98 L143.50,193.86 L143.64,193.73 L143.78,193.61 L143.92,193.49 L144.05,193.36 L144.19,193.24 L144.33,193.11 L144.47,192.98 L144.61,192.85 L144.75,192.72 L144.89,192.59 L145.02,192.45 L145.16,192.32 L145.30,192.18 L145.44,192.04 L145.58,191.90 L145.72,191.76 L145.86,191.62 L145.99,191.47 L146.13,191.33 L146.27,191.18 L146.41,191.03 L146.55,190.88 L146.69,190.73 L146.83,190.57 L146.96,190.41 L147.10,190.26 L147.24,190.09 L147.38,189.93 L147.52,189.76 L147.66,189.59 L147.80,189.42 L147.93,189.24 L148.07,189.06 L148.21,188.88 L148.35,188.69 L148.49,188.50 L148.63,188.30 L148.77,188.10 L148.91,187.89 L149.04,187.67 L149.18,187.45 L149.32,187.22 L149.46,186.99 L149.60,186.74 L149.74,186.48 L149.88,186.22 L150.01,185.94 L150.15,185.65 L150.29,185.34 L150.43,185.02 L150.57,184.68 L150.71,184.32 L150.85,183.95 L150.98,183.55 L151.12,183.12 L151.26,182.67 L151.40,182.18 L151.54,181.67 L151.68,181.12 L151.82,180.52 L151.95,179.89 L152.09,179.21 L152.23,178.48 L152.37,177.70 L152.51,176.85 L152.65,175.95 L152.79,174.98 L152.93,173.93 L153.06,172.81 L153.20,171.61 L153.34,170.33 L153.48,168.96 L153.62,167.51 L153.76,165.96 L153.90,164.31 L154.03,162.58 L154.17,160.75 L154.31,158.83 L154.45,156.83 L154.59,154.74 L154.73,152.58 L154.87,150.35 L155.00,148.06 L155.14,145.73 L155.28,143.36 L155.42,140.96 L155.56,138.55 L155.70,136.15 L155.84,133.76 L155.97,131.39 L156.11,129.07 L156.25,126.79 L156.39,124.58 L156.53,122.43 L156.67,120.36 L156.81,118.38 L156.95,116.48 L157.08,114.67 L157.22,112.95 L157.36,111.32 L157.50,109.78 L157.64,108.34 L157.78,106.98 L157.92,105.70 L158.05,104.51 L158.19,103.39 L158.33,102.35 L158.47,101.37 L158.61,100.46 L158.75,99.61 L158.89,98.81 L159.02,98.06 L159.16,97.37 L159.30,96.71 L159.44,96.10 L159.58,95.52 L159.72,94.98 L159.86,94.47 L159.99,93.98 L160.13,93.52 L160.27,93.09 L160.41,92.67 L160.55,92.28 L160.69,91.90 L160.83,91.54 L160.96,91.19 L161.10,90.85 L161.24,90.53 L161.38,90.21 L161.52,89.91 L161.66,89.61 L161.80,89.32 L161.94,89.04 L162.07,88.77 L162.21,88.50 L162.35,88.23 L162.49,87.97 L162.63,87.72 L162.77,87.47 L162.91,87.22 L163.04,86.98 L163.18,86.74 L163.32,86.50 L163.46,86.26 L165.34,83.24 L167.23,80.45 L169.11,77.84 L170.99,75.39 L172.88,73.11 L174.76,70.98 L176.64,69.00 L178.53,67.13 L180.41,65.38 L182.29,63.72 L184.17,62.13 L186.06,60.61 L187.94,59.15 L189.82,57.74 L191.71,56.37 L193.59,55.04 L195.47,53.74 L197.36,52.48 L199.24,51.25 L201.12,50.05 L203.01,48.88 L204.89,47.73 L206.77,46.62 L208.66,45.54 L210.54,44.49 L212.42,43.47 L214.31,42.49 L216.19,41.53 L218.07,40.61 L219.95,39.72 L221.84,38.86 L223.72,38.03 L225.60,37.24 L227.49,36.48 L229.37,35.75 L231.25,35.05 L233.14,34.38 L235.02,33.74 L236.90,33.13 L238.79,32.55 L240.67,31.99 L242.55,31.47 L244.44,30.96 L246.32,30.49 L248.20,30.04 L250.09,29.61 L251.97,29.20 L253.85,28.82 L255.74,28.45 L257.62,28.11 L259.50,27.79 L261.38,27.48 L263.27,27.19 L265.15,26.92 L267.03,26.66 L268.92,26.41 L270.80,26.19 L272.68,25.97 L274.57,25.77 L276.45,25.58 L278.33,25.40 L280.22,25.23 L282.10,25.07 L283.98,24.92 L285.87,24.78 L287.75,24.65 L289.63,24.52 L291.52,24.40 L293.40,24.30 L295.28,24.19 L297.16,24.10 L299.05,24.01 L300.93,23.92 L302.81,23.84 L304.70,23.77 L306.58,23.70 L308.46,23.63 L310.35,23.57 L312.23,23.51" stroke="#e11a2d"/>
<path d="M58.77,211.49 L61.62,211.40 L64.47,211.30 L67.32,211.19 L70.17,211.08 L73.02,210.94 L75.87,210.80 L78.72,210.64 L81.57,210.47 L84.42,210.27 L87.27,210.06 L90.12,209.83 L92.97,209.58 L95.82,209.30 L98.67,208.99 L101.52,208.66 L104.37,208.29 L107.22,207.89 L110.07,207.45 L112.92,206.97 L115.77,206.45 L118.62,205.88 L121.47,205.27 L124.32,204.60 L127.17,203.88 L130.02,203.10 L132.87,202.25 L135.72,201.35 L138.57,200.38 L141.42,199.33 L141.56,199.28 L141.70,199.23 L141.84,199.18 L141.97,199.12 L142.11,199.07 L142.25,199.02 L142.39,198.96 L142.53,198.91 L142.67,198.85 L142.81,198.80 L142.94,198.75 L143.08,198.69 L143.22,198.64 L143.36,198.58 L143.50,198.53 L143.64,198.47 L143.78,198.42 L143.92,198.36 L144.05,198.31 L144.19,198.25 L144.33,198.20 L144.47,198.14 L144.61,198.08 L144.75,198.03 L144.89,197.97 L145.02,197.91 L145.16,197.86 L145.30,197.80 L145.44,197.74 L145.58,197.69 L145.72,197.63 L145.86,197.57 L145.99,197.51 L146.13,197.45 L146.27,197.40 L146.41,197.34 L146.55,197.28 L146.69,197.22 L146.83,197.16 L146.96,197.10 L147.10,197.04 L147.24,196.98 L147.38,196.92 L147.52,196.86 L147.66,196.80 L147.80,196.74 L147.93,196.68 L148.07,196.62 L148.21,196.56 L148.35,196.50 L148.49,196.44 L148.63,196.38 L148.77,196.32 L148.91,196.26 L149.04,196.19 L149.18,196.13 L149.32,196.07 L149.46,196.01 L149.60,195.94 L149.74,195.88 L149.88,195.82 L150.01,195.76 L150.15,195.69 L150.29,195.63 L150.43,195.57 L150.57,195.50 L150.71,195.44 L150.85,195.37 L150.98,195.31 L151.12,195.25 L151.26,195.18 L151.40,195.12 L151.54,195.05 L151.68,194.99 L151.82,194.92 L151.95,194.86 L152.09,194.79 L152.23,194.72 L152.37,194.66 L152.51,194.59 L152.65,194.53 L152.79,194.46 L152.93,194.39 L153.06,194.33 L153.20,194.26 L153.34,194.19 L153.48,194.12 L153.62,194.06 L153.76,193.99 L153.90,193.92 L154.03,193.85 L154.17,193.79 L154.31,193.72 L154.45,193.65 L154.59,193.58 L154.73,193.51 L154.87,193.44 L155.00,193.37 L155.14,193.30 L155.28,193.23 L155.42,193.16 L155.56,193.09 L155.70,193.02 L155.84,192.95 L155.97,192.88 L156.11,192.81 L156.25,192.74 L156.39,192.67 L156.53,192.60 L156.67,192.53 L156.81,192.46 L156.95,192.38 L157.08,192.31 L157.22,192.24 L157.36,192.17 L157.50,192.10 L157.64,192.02 L157.78,191.95 L157.92,191.88 L158.05,191.80 L158.19,191.73 L158.33,191.66 L158.47,191.58 L158.61,191.51 L158.75,191.44 L158.89,191.36 L159.02,191.29 L159.16,191.21 L159.30,191.14 L159.44,191.06 L159.58,190.99 L159.72,190.91 L159.86,190.84 L159.99,190.76 L160.13,190.69 L160.27,190.61 L160.41,190.54 L160.55,190.46 L160.69,190.38 L160.83,190.31 L160.96,190.23 L161.10,190.15 L161.24,190.08 L161.38,190.00 L161.52,189.92 L161.66,189.84 L161.80,189.77 L161.94,189.69 L162.07,189.61 L162.21,189.53 L162.35,189.45 L162.49,189.38 L162.63,189.30 L162.77,189.22 L162.91,189.14 L163.04,189.06 L163.18,188.98 L163.32,188.90 L163.46,188.82 L165.34,187.72 L167.23,186.59 L169.11,185.43 L170.99,184.24 L172.88,183.02 L174.76,181.77 L176.64,180.49 L178.53,179.18 L180.41,177.82 L182.29,176.43 L184.17,174.99 L186.06,173.49 L187.94,171.94 L189.82,170.31 L191.71,168.59 L193.59,166.78 L195.47,164.84 L197.36,162.78 L199.24,160.56 L201.12,158.18 L203.01,155.63 L204.89,152.92 L206.77,150.00 L208.66,146.75 L210.54,142.47 L212.42,134.35 L214.31,115.03 L216.19,83.77 L218.07,61.09 L219.95,51.64 L221.84,47.52 L223.72,44.95 L225.60,42.91 L227.49,41.15 L229.37,39.60 L231.25,38.22 L233.14,36.99 L235.02,35.89 L236.90,34.91 L238.79,34.03 L240.67,33.23 L242.55,32.50 L244.44,31.84 L246.32,31.23 L248.20,30.67 L250.09,30.16 L251.97,29.68 L253.85,29.24 L255.74,28.82 L257.62,28.44 L259.50,28.08 L261.38,27.74 L263.27,27.43 L265.15,27.13 L267.03,26.86 L268.92,26.60 L270.80,26.36 L272.68,26.13 L274.57,25.91 L276.45,25.71 L278.33,25.52 L280.22,25.34 L282.10,25.18 L283.98,25.02 L285.87,24.87 L287.75,24.73 L289.63,24.60 L291.52,24.48 L293.40,24.37 L295.28,24.26 L297.16,24.16 L299.05,24.07 L300.93,23.98 L302.81,23.89 L304.70,23.82 L306.58,23.74 L308.46,23.67 L310.35,23.61 L312.23,23.55" stroke="#e11a2d"/>
<path d="M185.50,117.50 L190.00,113.00 L197.50,106.00 L203.00,100.00 L208.40,90.00 L210.60,85.00 L212.10,80.00 L214.70,60.00 L219.20,50.00 L223.70,37.90" stroke="#e11a2d"/>
</g>
<rect x="48" y="6" width="276" height="223" fill="none" stroke="#000" stroke-width="2"/>
<path d="M75.30,229 v-5.5 M75.30,6 v5.5 M102.85,229 v-3.2 M102.85,6 v3.2 M130.40,229 v-5.5 M130.40,6 v5.5 M157.95,229 v-3.2 M157.95,6 v3.2 M185.50,229 v-5.5 M185.50,6 v5.5 M213.05,229 v-3.2 M213.05,6 v3.2 M240.60,229 v-5.5 M240.60,6 v5.5 M268.15,229 v-3.2 M268.15,6 v3.2 M295.70,229 v-5.5 M295.70,6 v5.5 M48,215.08 h3.2 M324,215.08 h-3.2 M48,201.14 h5.5 M324,201.14 h-5.5 M48,187.20 h3.2 M324,187.20 h-3.2 M48,173.26 h5.5 M324,173.26 h-5.5 M48,159.32 h3.2 M324,159.32 h-3.2 M48,145.38 h5.5 M324,145.38 h-5.5 M48,131.44 h3.2 M324,131.44 h-3.2 M48,117.50 h5.5 M324,117.50 h-5.5 M48,103.56 h3.2 M324,103.56 h-3.2 M48,89.62 h5.5 M324,89.62 h-5.5 M48,75.68 h3.2 M324,75.68 h-3.2 M48,61.74 h5.5 M324,61.74 h-5.5 M48,47.80 h3.2 M324,47.80 h-3.2 M48,33.86 h5.5 M324,33.86 h-5.5 M48,19.92 h3.2 M324,19.92 h-3.2" stroke="#000" stroke-width="1.5" fill="none"/>
<g font-family="Liberation Sans" font-weight="bold" font-size="10.5" fill="#000">
<text x="75.30" y="241.6" text-anchor="middle">-2000</text>
<text x="130.40" y="241.6" text-anchor="middle">-1000</text>
<text x="185.50" y="241.6" text-anchor="middle">0</text>
<text x="240.60" y="241.6" text-anchor="middle">1000</text>
<text x="295.70" y="241.6" text-anchor="middle">2000</text>
<text x="42.5" y="232.22" text-anchor="end">-80</text>
<text x="42.5" y="204.34" text-anchor="end">-60</text>
<text x="42.5" y="176.46" text-anchor="end">-40</text>
<text x="42.5" y="148.58" text-anchor="end">-20</text>
<text x="42.5" y="120.70" text-anchor="end">0</text>
<text x="42.5" y="92.82" text-anchor="end">20</text>
<text x="42.5" y="64.94" text-anchor="end">40</text>
<text x="42.5" y="37.06" text-anchor="end">60</text>
<text x="42.5" y="9.18" text-anchor="end">80</text>
</g>
<text font-family="Liberation Sans" font-weight="bold" font-size="11.5" x="157.2" y="261.2">H<tspan font-size="7.5" dy="2.5">eff</tspan><tspan dy="-2.5"> [kA/m]</tspan></text>
<text font-family="Liberation Sans" font-weight="bold" font-size="11.5" transform="translate(15.2,111.5) rotate(-90)" text-anchor="middle">M [Am<tspan font-size="8" dy="-4.6">2</tspan><tspan dy="4.6">/kg]</tspan></text>
<rect x="68.5" y="14.5" width="88.5" height="70.5" fill="#fff" stroke="none"/>
<defs><clipPath id="ci"><rect x="68.5" y="14.5" width="88" height="70"/></clipPath></defs>
<g clip-path="url(#ci)" fill="none" stroke-width="2.2">
<path d="M67.10,149.24 L67.55,148.19 L68.00,147.08 L68.45,145.88 L68.90,144.61 L69.35,143.25 L69.80,141.80 L70.25,140.26 L70.70,138.63 L71.15,136.91 L71.60,135.10 L72.05,133.19 L72.50,131.20 L72.95,129.12 L73.40,126.96 L73.85,124.73 L74.30,122.43 L74.75,120.07 L75.20,117.65 L75.65,115.20 L76.11,112.72 L76.56,110.22 L77.01,107.71 L77.46,105.21 L77.91,102.73 L78.36,100.28 L78.81,97.87 L79.26,95.50 L79.71,93.20 L80.16,90.96 L80.61,88.80 L81.06,86.71 L81.51,84.71 L81.96,82.80 L82.41,80.98 L82.86,79.24 L83.31,77.60 L83.76,76.04 L84.21,74.58 L84.66,73.19 L85.11,71.89 L85.56,70.67 L86.01,69.53 L86.46,68.45 L86.91,67.45 L87.36,66.51 L87.81,65.62 L88.26,64.80 L88.71,64.03 L89.16,63.30 L89.61,62.62 L90.06,61.98 L90.51,61.38 L90.96,60.82 L91.41,60.28 L91.86,59.78 L92.31,59.30 L92.76,58.85 L93.21,58.42 L93.66,58.01 L94.12,57.62 L94.57,57.25 L95.02,56.89 L95.47,56.54 L95.92,56.21 L96.37,55.89 L96.82,55.58 L97.27,55.28 L97.72,54.99 L98.17,54.71 L98.62,54.43 L99.07,54.16 L99.52,53.89 L99.97,53.63 L100.42,53.37 L100.87,53.12 L101.32,52.87 L101.77,52.62 L102.22,52.38 L102.67,52.14 L103.12,51.90 L103.57,51.66 L104.02,51.43 L104.47,51.20 L104.92,50.96 L105.37,50.73 L105.82,50.50 L106.27,50.28 L106.72,50.05 L107.17,49.82 L107.62,49.60 L108.07,49.37 L108.52,49.15 L108.97,48.92 L109.42,48.70 L109.87,48.48 L110.32,48.25 L110.77,48.03 L111.22,47.81 L111.67,47.59 L112.13,47.37 L112.58,47.15 L113.03,46.92 L113.48,46.70 L113.93,46.48 L114.38,46.26 L114.83,46.04 L115.28,45.82 L115.73,45.60 L116.18,45.38 L116.63,45.17 L117.08,44.95 L117.53,44.73 L117.98,44.51 L118.43,44.29 L118.88,44.07 L119.33,43.86 L119.78,43.64 L120.23,43.42 L120.68,43.21 L121.13,42.99 L121.58,42.78 L122.03,42.56 L122.48,42.35 L122.93,42.13 L123.38,41.92 L123.83,41.70 L124.28,41.49 L124.73,41.28 L125.18,41.07 L125.63,40.86 L126.08,40.64 L126.53,40.43 L126.98,40.22 L127.43,40.02 L127.88,39.81 L128.33,39.60 L128.78,39.39 L129.23,39.18 L129.68,38.98 L130.14,38.77 L130.59,38.57 L131.04,38.36 L131.49,38.16 L131.94,37.96 L132.39,37.75 L132.84,37.55 L133.29,37.35 L133.74,37.15 L134.19,36.95 L134.64,36.75 L135.09,36.56 L135.54,36.36 L135.99,36.16 L136.44,35.97 L136.89,35.77 L137.34,35.58 L137.79,35.38 L138.24,35.19 L138.69,35.00 L139.14,34.81 L139.59,34.62 L140.04,34.43 L140.49,34.24 L140.94,34.05 L141.39,33.87 L141.84,33.68 L142.29,33.49 L142.74,33.31 L143.19,33.13 L143.64,32.94 L144.09,32.76 L144.54,32.58 L144.99,32.40 L145.44,32.22 L145.89,32.04 L146.34,31.86 L146.79,31.69 L147.24,31.51 L147.69,31.33 L148.15,31.16 L148.60,30.99 L149.05,30.81 L149.50,30.64 L149.95,30.47 L150.40,30.30 L150.85,30.13 L151.30,29.96 L151.75,29.79 L152.20,29.63 L152.65,29.46 L153.10,29.29 L153.55,29.13 L154.00,28.96 L154.45,28.80 L154.90,28.64 L155.35,28.48 L155.80,28.32 L156.25,28.16 L156.70,28.00" stroke="#7b6dbd"/>
<path d="M67.10,141.14 L67.55,139.48 L68.00,137.71 L68.45,135.84 L68.90,133.87 L69.35,131.80 L69.80,129.64 L70.25,127.38 L70.70,125.05 L71.15,122.63 L71.60,120.15 L72.05,117.62 L72.50,115.04 L72.95,112.43 L73.40,109.81 L73.85,107.19 L74.30,104.57 L74.75,101.99 L75.20,99.44 L75.65,96.95 L76.11,94.52 L76.56,92.16 L77.01,89.89 L77.46,87.70 L77.91,85.60 L78.36,83.61 L78.81,81.71 L79.26,79.91 L79.71,78.21 L80.16,76.61 L80.61,75.10 L81.06,73.69 L81.51,72.37 L81.96,71.13 L82.41,69.97 L82.86,68.89 L83.31,67.88 L83.76,66.94 L84.21,66.05 L84.66,65.23 L85.11,64.46 L85.56,63.73 L86.01,63.06 L86.46,62.42 L86.91,61.82 L87.36,61.25 L87.81,60.72 L88.26,60.21 L88.71,59.73 L89.16,59.27 L89.61,58.83 L90.06,58.42 L90.51,58.01 L90.96,57.63 L91.41,57.26 L91.86,56.90 L92.31,56.55 L92.76,56.21 L93.21,55.88 L93.66,55.56 L94.12,55.25 L94.57,54.95 L95.02,54.64 L95.47,54.35 L95.92,54.06 L96.37,53.77 L96.82,53.49 L97.27,53.21 L97.72,52.94 L98.17,52.66 L98.62,52.39 L99.07,52.13 L99.52,51.86 L99.97,51.60 L100.42,51.33 L100.87,51.07 L101.32,50.81 L101.77,50.56 L102.22,50.30 L102.67,50.04 L103.12,49.79 L103.57,49.53 L104.02,49.28 L104.47,49.03 L104.92,48.77 L105.37,48.52 L105.82,48.27 L106.27,48.02 L106.72,47.77 L107.17,47.52 L107.62,47.28 L108.07,47.03 L108.52,46.78 L108.97,46.53 L109.42,46.29 L109.87,46.04 L110.32,45.80 L110.77,45.55 L111.22,45.31 L111.67,45.07 L112.13,44.82 L112.58,44.58 L113.03,44.34 L113.48,44.10 L113.93,43.85 L114.38,43.61 L114.83,43.37 L115.28,43.13 L115.73,42.90 L116.18,42.66 L116.63,42.42 L117.08,42.18 L117.53,41.95 L117.98,41.71 L118.43,41.48 L118.88,41.24 L119.33,41.01 L119.78,40.77 L120.23,40.54 L120.68,40.31 L121.13,40.08 L121.58,39.85 L122.03,39.62 L122.48,39.39 L122.93,39.16 L123.38,38.93 L123.83,38.71 L124.28,38.48 L124.73,38.25 L125.18,38.03 L125.63,37.81 L126.08,37.58 L126.53,37.36 L126.98,37.14 L127.43,36.92 L127.88,36.70 L128.33,36.48 L128.78,36.26 L129.23,36.04 L129.68,35.83 L130.14,35.61 L130.59,35.40 L131.04,35.18 L131.49,34.97 L131.94,34.76 L132.39,34.55 L132.84,34.34 L133.29,34.13 L133.74,33.92 L134.19,33.71 L134.64,33.50 L135.09,33.30 L135.54,33.09 L135.99,32.89 L136.44,32.68 L136.89,32.48 L137.34,32.28 L137.79,32.08 L138.24,31.88 L138.69,31.68 L139.14,31.48 L139.59,31.28 L140.04,31.09 L140.49,30.89 L140.94,30.70 L141.39,30.50 L141.84,30.31 L142.29,30.12 L142.74,29.93 L143.19,29.74 L143.64,29.55 L144.09,29.36 L144.54,29.17 L144.99,28.99 L145.44,28.80 L145.89,28.62 L146.34,28.43 L146.79,28.25 L147.24,28.07 L147.69,27.89 L148.15,27.70 L148.60,27.53 L149.05,27.35 L149.50,27.17 L149.95,26.99 L150.40,26.82 L150.85,26.64 L151.30,26.47 L151.75,26.29 L152.20,26.12 L152.65,25.95 L153.10,25.78 L153.55,25.61 L154.00,25.44 L154.45,25.27 L154.90,25.10 L155.35,24.93 L155.80,24.77 L156.25,24.60 L156.70,24.44" stroke="#2ab5ad"/>
<path d="M67.10,144.90 L67.55,143.43 L68.00,141.88 L68.45,140.25 L68.90,138.53 L69.35,136.71 L69.80,134.82 L70.25,132.84 L70.70,130.78 L71.15,128.64 L71.60,126.43 L72.05,124.16 L72.50,121.83 L72.95,119.45 L73.40,117.03 L73.85,114.59 L74.30,112.12 L74.75,109.64 L75.20,107.16 L75.65,104.70 L76.11,102.26 L76.56,99.86 L77.01,97.50 L77.46,95.19 L77.91,92.94 L78.36,90.75 L78.81,88.64 L79.26,86.61 L79.71,84.66 L80.16,82.79 L80.61,81.01 L81.06,79.31 L81.51,77.70 L81.96,76.17 L82.41,74.73 L82.86,73.36 L83.31,72.08 L83.76,70.87 L84.21,69.73 L84.66,68.66 L85.11,67.65 L85.56,66.71 L86.01,65.83 L86.46,64.99 L86.91,64.21 L87.36,63.48 L87.81,62.79 L88.26,62.14 L88.71,61.53 L89.16,60.95 L89.61,60.41 L90.06,59.89 L90.51,59.41 L90.96,58.94 L91.41,58.50 L91.86,58.08 L92.31,57.68 L92.76,57.30 L93.21,56.93 L93.66,56.58 L94.12,56.24 L94.57,55.91 L95.02,55.59 L95.47,55.28 L95.92,54.99 L96.37,54.70 L96.82,54.41 L97.27,54.14 L97.72,53.87 L98.17,53.60 L98.62,53.34 L99.07,53.09 L99.52,52.84 L99.97,52.59 L100.42,52.35 L100.87,52.10 L101.32,51.87 L101.77,51.63 L102.22,51.40 L102.67,51.16 L103.12,50.93 L103.57,50.71 L104.02,50.48 L104.47,50.25 L104.92,50.03 L105.37,49.80 L105.82,49.58 L106.27,49.36 L106.72,49.14 L107.17,48.92 L107.62,48.70 L108.07,48.48 L108.52,48.26 L108.97,48.04 L109.42,47.82 L109.87,47.60 L110.32,47.39 L110.77,47.17 L111.22,46.95 L111.67,46.73 L112.13,46.52 L112.58,46.30 L113.03,46.08 L113.48,45.87 L113.93,45.65 L114.38,45.43 L114.83,45.22 L115.28,45.00 L115.73,44.79 L116.18,44.57 L116.63,44.35 L117.08,44.14 L117.53,43.92 L117.98,43.71 L118.43,43.49 L118.88,43.28 L119.33,43.06 L119.78,42.84 L120.23,42.63 L120.68,42.41 L121.13,42.20 L121.58,41.98 L122.03,41.77 L122.48,41.55 L122.93,41.34 L123.38,41.12 L123.83,40.91 L124.28,40.70 L124.73,40.48 L125.18,40.27 L125.63,40.05 L126.08,39.84 L126.53,39.63 L126.98,39.41 L127.43,39.20 L127.88,38.99 L128.33,38.77 L128.78,38.56 L129.23,38.35 L129.68,38.14 L130.14,37.92 L130.59,37.71 L131.04,37.50 L131.49,37.29 L131.94,37.08 L132.39,36.87 L132.84,36.66 L133.29,36.45 L133.74,36.24 L134.19,36.03 L134.64,35.82 L135.09,35.61 L135.54,35.40 L135.99,35.19 L136.44,34.98 L136.89,34.77 L137.34,34.57 L137.79,34.36 L138.24,34.15 L138.69,33.95 L139.14,33.74 L139.59,33.53 L140.04,33.33 L140.49,33.12 L140.94,32.92 L141.39,32.71 L141.84,32.51 L142.29,32.31 L142.74,32.10 L143.19,31.90 L143.64,31.70 L144.09,31.50 L144.54,31.30 L144.99,31.10 L145.44,30.89 L145.89,30.69 L146.34,30.50 L146.79,30.30 L147.24,30.10 L147.69,29.90 L148.15,29.70 L148.60,29.50 L149.05,29.31 L149.50,29.11 L149.95,28.92 L150.40,28.72 L150.85,28.53 L151.30,28.33 L151.75,28.14 L152.20,27.94 L152.65,27.75 L153.10,27.56 L153.55,27.37 L154.00,27.18 L154.45,26.99 L154.90,26.80 L155.35,26.61 L155.80,26.42 L156.25,26.23 L156.70,26.04" stroke="#203a5e"/>
<path d="M67.10,130.56 L67.55,128.01 L68.00,125.36 L68.45,122.60 L68.90,119.75 L69.35,116.84 L69.80,113.86 L70.25,110.85 L70.70,107.83 L71.15,104.81 L71.60,101.82 L72.05,98.88 L72.50,96.00 L72.95,93.20 L73.40,90.50 L73.85,87.91 L74.30,85.44 L74.75,83.09 L75.20,80.86 L75.65,78.77 L76.11,76.81 L76.56,74.97 L77.01,73.26 L77.46,71.67 L77.91,70.19 L78.36,68.82 L78.81,67.55 L79.26,66.38 L79.71,65.29 L80.16,64.28 L80.61,63.34 L81.06,62.48 L81.51,61.67 L81.96,60.92 L82.41,60.22 L82.86,59.56 L83.31,58.94 L83.76,58.36 L84.21,57.82 L84.66,57.30 L85.11,56.81 L85.56,56.34 L86.01,55.90 L86.46,55.47 L86.91,55.06 L87.36,54.67 L87.81,54.28 L88.26,53.91 L88.71,53.56 L89.16,53.21 L89.61,52.86 L90.06,52.53 L90.51,52.20 L90.96,51.88 L91.41,51.57 L91.86,51.26 L92.31,50.96 L92.76,50.66 L93.21,50.36 L93.66,50.06 L94.12,49.77 L94.57,49.49 L95.02,49.20 L95.47,48.92 L95.92,48.64 L96.37,48.36 L96.82,48.09 L97.27,47.81 L97.72,47.54 L98.17,47.27 L98.62,47.00 L99.07,46.74 L99.52,46.47 L99.97,46.21 L100.42,45.95 L100.87,45.69 L101.32,45.43 L101.77,45.17 L102.22,44.91 L102.67,44.66 L103.12,44.40 L103.57,44.15 L104.02,43.90 L104.47,43.65 L104.92,43.40 L105.37,43.16 L105.82,42.91 L106.27,42.67 L106.72,42.42 L107.17,42.18 L107.62,41.94 L108.07,41.70 L108.52,41.47 L108.97,41.23 L109.42,41.00 L109.87,40.76 L110.32,40.53 L110.77,40.30 L111.22,40.07 L111.67,39.84 L112.13,39.61 L112.58,39.39 L113.03,39.16 L113.48,38.94 L113.93,38.72 L114.38,38.50 L114.83,38.28 L115.28,38.06 L115.73,37.84 L116.18,37.63 L116.63,37.41 L117.08,37.20 L117.53,36.99 L117.98,36.78 L118.43,36.57 L118.88,36.36 L119.33,36.15 L119.78,35.95 L120.23,35.74 L120.68,35.54 L121.13,35.34 L121.58,35.13 L122.03,34.93 L122.48,34.74 L122.93,34.54 L123.38,34.34 L123.83,34.15 L124.28,33.95 L124.73,33.76 L125.18,33.57 L125.63,33.38 L126.08,33.19 L126.53,33.00 L126.98,32.81 L127.43,32.62 L127.88,32.44 L128.33,32.25 L128.78,32.07 L129.23,31.89 L129.68,31.71 L130.14,31.53 L130.59,31.35 L131.04,31.17 L131.49,30.99 L131.94,30.81 L132.39,30.64 L132.84,30.46 L133.29,30.29 L133.74,30.12 L134.19,29.94 L134.64,29.77 L135.09,29.60 L135.54,29.43 L135.99,29.27 L136.44,29.10 L136.89,28.93 L137.34,28.76 L137.79,28.60 L138.24,28.44 L138.69,28.27 L139.14,28.11 L139.59,27.95 L140.04,27.79 L140.49,27.62 L140.94,27.46 L141.39,27.31 L141.84,27.15 L142.29,26.99 L142.74,26.83 L143.19,26.68 L143.64,26.52 L144.09,26.37 L144.54,26.21 L144.99,26.06 L145.44,25.91 L145.89,25.75 L146.34,25.60 L146.79,25.45 L147.24,25.30 L147.69,25.15 L148.15,25.00 L148.60,24.85 L149.05,24.70 L149.50,24.56 L149.95,24.41 L150.40,24.26 L150.85,24.12 L151.30,23.97 L151.75,23.83 L152.20,23.68 L152.65,23.54 L153.10,23.40 L153.55,23.25 L154.00,23.11 L154.45,22.97 L154.90,22.83 L155.35,22.69 L155.80,22.55 L156.25,22.41 L156.70,22.27" stroke="#999999"/>
<path d="M67.10,125.85 L67.55,123.09 L68.00,120.25 L68.45,117.33 L68.90,114.36 L69.35,111.36 L69.80,108.33 L70.25,105.31 L70.70,102.32 L71.15,99.37 L71.60,96.48 L72.05,93.67 L72.50,90.96 L72.95,88.35 L73.40,85.85 L73.85,83.48 L74.30,81.23 L74.75,79.12 L75.20,77.13 L75.65,75.27 L76.11,73.53 L76.56,71.91 L77.01,70.40 L77.46,69.01 L77.91,67.71 L78.36,66.51 L78.81,65.40 L79.26,64.37 L79.71,63.41 L80.16,62.52 L80.61,61.69 L81.06,60.92 L81.51,60.21 L81.96,59.53 L82.41,58.90 L82.86,58.31 L83.31,57.75 L83.76,57.23 L84.21,56.72 L84.66,56.25 L85.11,55.79 L85.56,55.36 L86.01,54.94 L86.46,54.54 L86.91,54.15 L87.36,53.78 L87.81,53.41 L88.26,53.06 L88.71,52.71 L89.16,52.38 L89.61,52.05 L90.06,51.72 L90.51,51.40 L90.96,51.09 L91.41,50.79 L91.86,50.48 L92.31,50.18 L92.76,49.89 L93.21,49.60 L93.66,49.31 L94.12,49.02 L94.57,48.74 L95.02,48.45 L95.47,48.18 L95.92,47.90 L96.37,47.62 L96.82,47.35 L97.27,47.08 L97.72,46.81 L98.17,46.54 L98.62,46.28 L99.07,46.01 L99.52,45.75 L99.97,45.49 L100.42,45.23 L100.87,44.97 L101.32,44.71 L101.77,44.45 L102.22,44.20 L102.67,43.95 L103.12,43.69 L103.57,43.44 L104.02,43.19 L104.47,42.95 L104.92,42.70 L105.37,42.45 L105.82,42.21 L106.27,41.97 L106.72,41.73 L107.17,41.49 L107.62,41.25 L108.07,41.01 L108.52,40.77 L108.97,40.54 L109.42,40.31 L109.87,40.07 L110.32,39.84 L110.77,39.61 L111.22,39.38 L111.67,39.16 L112.13,38.93 L112.58,38.71 L113.03,38.48 L113.48,38.26 L113.93,38.04 L114.38,37.82 L114.83,37.60 L115.28,37.38 L115.73,37.17 L116.18,36.95 L116.63,36.74 L117.08,36.53 L117.53,36.32 L117.98,36.11 L118.43,35.90 L118.88,35.69 L119.33,35.49 L119.78,35.28 L120.23,35.08 L120.68,34.88 L121.13,34.67 L121.58,34.47 L122.03,34.28 L122.48,34.08 L122.93,33.88 L123.38,33.69 L123.83,33.49 L124.28,33.30 L124.73,33.11 L125.18,32.91 L125.63,32.72 L126.08,32.53 L126.53,32.35 L126.98,32.16 L127.43,31.97 L127.88,31.79 L128.33,31.61 L128.78,31.42 L129.23,31.24 L129.68,31.06 L130.14,30.88 L130.59,30.70 L131.04,30.52 L131.49,30.35 L131.94,30.17 L132.39,29.99 L132.84,29.82 L133.29,29.65 L133.74,29.47 L134.19,29.30 L134.64,29.13 L135.09,28.96 L135.54,28.79 L135.99,28.63 L136.44,28.46 L136.89,28.29 L137.34,28.13 L137.79,27.96 L138.24,27.80 L138.69,27.63 L139.14,27.47 L139.59,27.31 L140.04,27.15 L140.49,26.99 L140.94,26.83 L141.39,26.67 L141.84,26.51 L142.29,26.35 L142.74,26.20 L143.19,26.04 L143.64,25.89 L144.09,25.73 L144.54,25.58 L144.99,25.42 L145.44,25.27 L145.89,25.12 L146.34,24.97 L146.79,24.82 L147.24,24.67 L147.69,24.52 L148.15,24.37 L148.60,24.22 L149.05,24.07 L149.50,23.92 L149.95,23.78 L150.40,23.63 L150.85,23.48 L151.30,23.34 L151.75,23.19 L152.20,23.05 L152.65,22.91 L153.10,22.76 L153.55,22.62 L154.00,22.48 L154.45,22.34 L154.90,22.19 L155.35,22.05 L155.80,21.91 L156.25,21.77 L156.70,21.63" stroke="#e11a2d"/>
</g>
<rect x="156.5" y="14.5" width="2" height="72" fill="#8f8f8f"/>
<rect x="68.5" y="84.5" width="90" height="2" fill="#8f8f8f"/>
<rect x="68.5" y="14.5" width="88" height="70" fill="none" stroke="#222" stroke-width="1"/>
<path d="M76.70,84.5 v2 M76.70,14.5 v1.8 M84.70,84.5 v2 M84.70,14.5 v1.8 M92.70,84.5 v2 M92.70,14.5 v1.8 M100.70,84.5 v2 M100.70,14.5 v1.8 M108.70,84.5 v2 M108.70,14.5 v1.8 M116.70,84.5 v2 M116.70,14.5 v1.8 M124.70,84.5 v2 M124.70,14.5 v1.8 M132.70,84.5 v2 M132.70,14.5 v1.8 M140.70,84.5 v2 M140.70,14.5 v1.8 M148.70,84.5 v2 M148.70,14.5 v1.8 M156.70,84.5 v2 M156.70,14.5 v1.8 M68.5,85.00 h1.8 M156.5,85.00 h2 M68.5,77.17 h1.8 M156.5,77.17 h2 M68.5,69.35 h1.8 M156.5,69.35 h2 M68.5,61.53 h1.8 M156.5,61.53 h2 M68.5,53.70 h1.8 M156.5,53.70 h2 M68.5,45.88 h1.8 M156.5,45.88 h2 M68.5,38.05 h1.8 M156.5,38.05 h2 M68.5,30.23 h1.8 M156.5,30.23 h2 M68.5,22.40 h1.8 M156.5,22.40 h2 M68.5,14.58 h1.8 M156.5,14.58 h2" stroke="#000" stroke-width="1" fill="none"/>
<g font-family="Liberation Sans" font-weight="bold" font-size="6.6" fill="#000">
<text x="76.70" y="92.6" text-anchor="middle">-500</text>
<text x="92.70" y="92.6" text-anchor="middle">-400</text>
<text x="108.70" y="92.6" text-anchor="middle">-300</text>
<text x="124.70" y="92.6" text-anchor="middle">-200</text>
<text x="140.70" y="92.6" text-anchor="middle">-100</text>
<text x="156.70" y="92.6" text-anchor="middle">0</text>
<text x="67" y="87.40" text-anchor="end">0</text>
<text x="67" y="71.75" text-anchor="end">10</text>
<text x="67" y="56.10" text-anchor="end">20</text>
<text x="67" y="40.45" text-anchor="end">30</text>
<text x="67" y="24.80" text-anchor="end">40</text>
</g>
<text font-family="Liberation Sans" font-weight="bold" font-size="7.4" transform="translate(96,104) scale(0.86,1)">H<tspan font-size="6.6" dy="1.6" letter-spacing="0.4">eff</tspan><tspan dy="-1.6"> [kA/m]</tspan></text>
<text font-family="Liberation Sans" font-weight="bold" font-size="7.4" transform="translate(58.8,50.3) rotate(-90) scale(0.84,1)" text-anchor="middle">M [Am<tspan font-size="5.8" dy="-3">2</tspan><tspan dy="3">/kg]</tspan></text>
<rect x="260.5" y="156.5" width="54" height="61" fill="#fff" stroke="#a8a8a8" stroke-width="1"/>
<line x1="261" y1="164" x2="280" y2="164" stroke="#e11a2d" stroke-width="2"/>
<text font-family="Liberation Sans" font-weight="bold" font-size="9.4" x="281.6" y="166.40">MSG12</text>
<line x1="261" y1="176" x2="280" y2="176" stroke="#999999" stroke-width="2"/>
<text font-family="Liberation Sans" font-weight="bold" font-size="9.4" x="281.6" y="178.40">MSG11</text>
<line x1="261" y1="188" x2="280" y2="188" stroke="#2ab5ad" stroke-width="2"/>
<text font-family="Liberation Sans" font-weight="bold" font-size="9.4" x="281.6" y="190.40">MSG10</text>
<line x1="261" y1="200" x2="280" y2="200" stroke="#203a5e" stroke-width="2"/>
<text font-family="Liberation Sans" font-weight="bold" font-size="9.4" x="281.6" y="202.40">MSG9</text>
<line x1="261" y1="212" x2="280" y2="212" stroke="#7b6dbd" stroke-width="2"/>
<text font-family="Liberation Sans" font-weight="bold" font-size="9.4" x="281.6" y="214.40">MSG8</text>
<text font-family="Liberation Sans" font-size="17.5" x="0.3" y="255.1">a)</text>
<text font-family="Liberation Sans" font-size="17.5" x="354.1" y="253.1">b)</text>
<rect x="382" y="6" width="276" height="223" fill="none" stroke="#000" stroke-width="2"/>
<path d="M397.00,229 v-5.5 M397.00,6 v5.5 M427.70,229 v-3.2 M427.70,6 v3.2 M458.40,229 v-5.5 M458.40,6 v5.5 M489.10,229 v-3.2 M489.10,6 v3.2 M519.80,229 v-5.5 M519.80,6 v5.5 M550.50,229 v-3.2 M550.50,6 v3.2 M581.20,229 v-5.5 M581.20,6 v5.5 M611.90,229 v-3.2 M611.90,6 v3.2 M642.60,229 v-5.5 M642.60,6 v5.5 M382,215.80 h5.5 M658,215.80 h-5.5 M382,194.38 h3.2 M658,194.38 h-3.2 M382,172.95 h5.5 M658,172.95 h-5.5 M382,151.53 h3.2 M658,151.53 h-3.2 M382,130.10 h5.5 M658,130.10 h-5.5 M382,108.68 h3.2 M658,108.68 h-3.2 M382,87.25 h5.5 M658,87.25 h-5.5 M382,65.83 h3.2 M658,65.83 h-3.2 M382,44.40 h5.5 M658,44.40 h-5.5 M382,22.97 h3.2 M658,22.97 h-3.2" stroke="#000" stroke-width="1.5" fill="none"/>
<g font-family="Liberation Sans" font-weight="bold" font-size="9" fill="#000">
<text x="397.00" y="241" text-anchor="middle">24</text>
<text x="458.40" y="241" text-anchor="middle">26</text>
<text x="519.80" y="241" text-anchor="middle">28</text>
<text x="581.20" y="241" text-anchor="middle">30</text>
<text x="642.60" y="241" text-anchor="middle">32</text>
<text x="376.5" y="218.70" text-anchor="end">470</text>
<text x="376.5" y="175.85" text-anchor="end">480</text>
<text x="376.5" y="133.00" text-anchor="end">490</text>
<text x="376.5" y="90.15" text-anchor="end">500</text>
<text x="376.5" y="47.30" text-anchor="end">510</text>
</g>
<text font-family="Liberation Sans" font-weight="bold" font-size="11.5" x="519.3" y="257.9" text-anchor="middle">C-size [nm]</text>
<text font-family="Liberation Sans" font-weight="bold" font-size="11.5" transform="translate(356.3,117.6) rotate(-90)" text-anchor="middle">Coercivity [kA/m]</text>
<path d="M397.00,164.38 L427.70,215.80 L489.10,130.10 L611.90,40.12 L642.60,18.69" fill="none" stroke="#0f4f4c" stroke-width="1.8"/>
<rect x="393.50" y="160.98" width="7" height="6.9" fill="#0f4f4c"/>
<rect x="424.20" y="212.40" width="7" height="6.9" fill="#0f4f4c"/>
<rect x="485.60" y="126.70" width="7" height="6.9" fill="#0f4f4c"/>
<rect x="608.40" y="36.72" width="7" height="6.9" fill="#0f4f4c"/>
<rect x="639.10" y="15.29" width="7" height="6.9" fill="#0f4f4c"/>
</svg>
</body></html>
